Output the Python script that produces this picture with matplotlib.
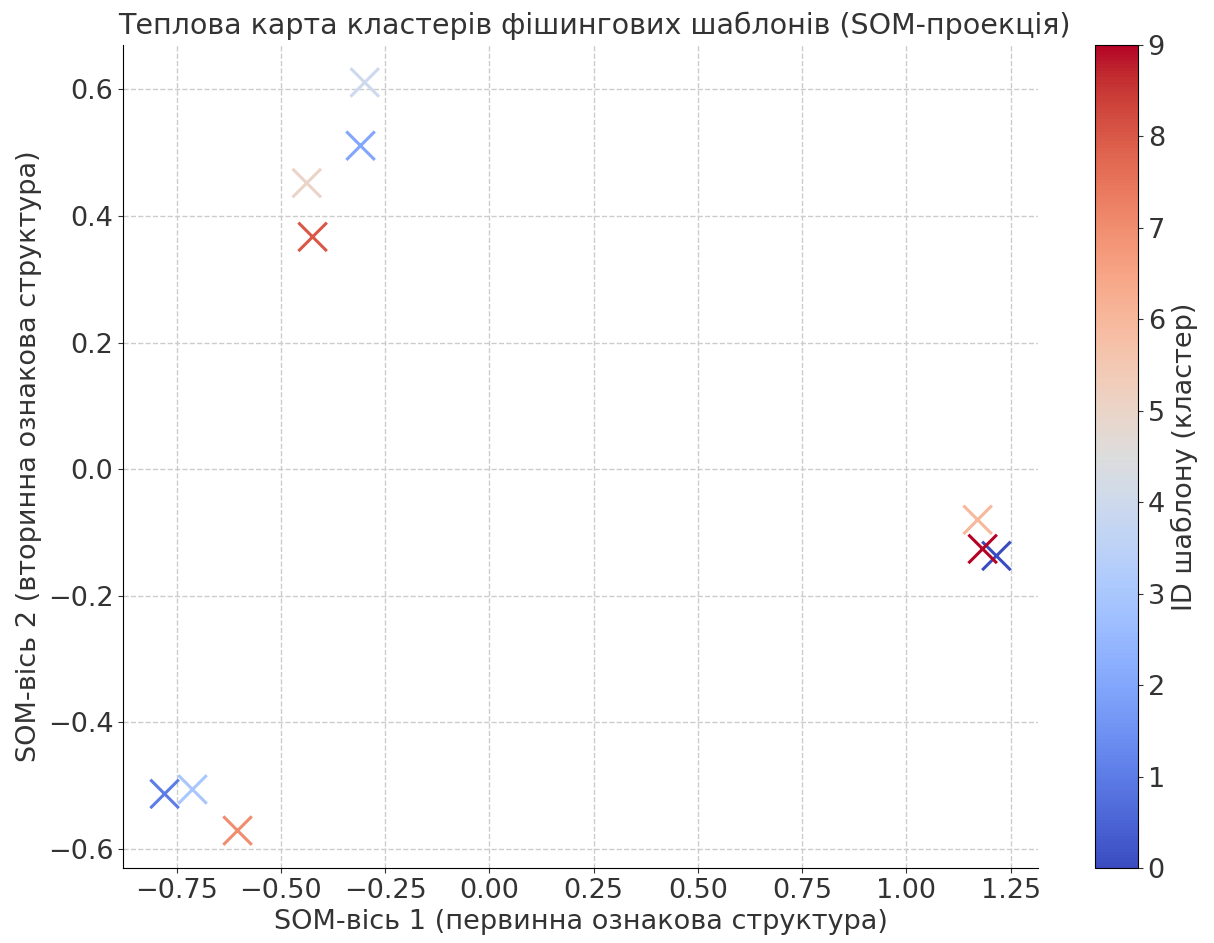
import matplotlib
matplotlib.use("Agg")
import matplotlib.pyplot as plt
import numpy as np

cluster_ids = [0, 1, 2, 3, 4, 5, 6, 7, 8, 9]
som_x = [1.216, -0.779, -0.309, -0.712, -0.299, -0.438, 1.171, -0.604, -0.424, 1.183]
som_y = [-0.137, -0.513, 0.511, -0.506, 0.611, 0.452, -0.080, -0.571, 0.367, -0.126]

plt.rcParams['font.family'] = ['DejaVu Sans']
fig = plt.figure(figsize=(12.14, 9.43), dpi=100)
W, H = 1214, 943
ax = fig.add_axes([123 / W, 1 - 868 / H, (1038 - 123) / W, (868 - 45) / H])
cax = fig.add_axes([1095 / W, 1 - 868 / H, 43 / W, (868 - 45) / H])

sc = ax.scatter(som_x, som_y, c=cluster_ids, cmap='coolwarm', marker='x',
                s=420, linewidths=2.2, vmin=0, vmax=9)
ax.set_title("Теплова карта кластерів фішингових шаблонів (SOM-проекція)",
             fontsize=20.5, color='#333333', pad=8, x=0.515)
ax.set_xlabel("SOM-вісь 1 (первинна ознакова структура)", fontsize=19.5, color='#333333')
ax.set_ylabel("SOM-вісь 2 (вторинна ознакова структура)", fontsize=19.5, color='#333333')
ax.tick_params(labelsize=19.5, colors='#333333')
ax.grid(True, linestyle='--', color='#cccccc', linewidth=1)
ax.set_axisbelow(True)
for sp in ['top', 'right']:
    ax.spines[sp].set_visible(False)
cb = fig.colorbar(sc, cax=cax)
cb.set_label("ID шаблону (кластер)", fontsize=19.5, color='#333333')
cb.ax.tick_params(labelsize=19.5, colors='#333333')
cb.set_ticks(range(10))
fig.savefig("out.png", dpi=100)
